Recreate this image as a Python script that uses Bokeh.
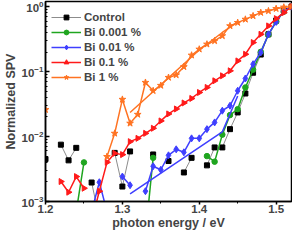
import math
from bokeh.plotting import figure
from bokeh.models import FixedTicker, Legend, LegendItem, Range1d
from bokeh.embed import file_html
from bokeh.resources import INLINE

nan = float("nan")

# ---- data (photon energy in eV, normalized SPV) ----
control_x = [1.20, nan, 1.22, 1.23, 1.24, nan, 1.26, 1.27, nan, 1.29, 1.30, 1.31, nan, 1.34, nan, 1.36, nan,
             1.38, 1.39, nan, 1.41, 1.42, nan, 1.43, 1.44, 1.45, 1.46, 1.47, 1.48, 1.49, 1.50, 1.51, 1.52]
control_y = [0.0045, nan, 0.0075, 0.0043, 0.0067, nan, 0.00196, 0.00055, nan, 0.0056, 0.0017, 0.0059, nan, 0.0053, nan, 0.0042, nan,
             0.0028, 0.0047, nan, 0.0036, 0.0068, nan, 0.0068, 0.0130, 0.0235, 0.046, 0.096, 0.183, 0.375, 0.61, 0.87, 1.0]

bi0001_x = [1.24, 1.25, nan, 1.33, 1.34, nan, 1.41, 1.42, 1.43, 1.44, 1.45, 1.46, 1.47, 1.48, 1.49, 1.50, 1.51, 1.52]
bi0001_y = [0.0007, 0.0040, nan, 0.0003, 0.0047, nan, 0.0050, 0.0041, 0.0107, 0.0214, 0.0264, 0.057, 0.107, 0.2015, 0.371, 0.589, 0.838, 1.0]

bi001_x = [1.26, 1.27, 1.28, nan, 1.30, 1.31, nan, 1.33, 1.34, 1.35, 1.36, 1.37, 1.38, 1.39, 1.40, 1.41, 1.42, 1.43,
           1.44, 1.45, 1.46, 1.47, 1.48, 1.49, 1.50, 1.51, 1.52]
bi001_y = [0.0007, 0.00198, 0.0007, nan, 0.00242, 0.00178, nan, 0.00144, 0.00349, 0.00308, 0.00514, 0.00636, 0.00572, 0.00938, 0.00938, 0.0130, 0.0165, 0.0250,
           0.0298, 0.0507, 0.0783, 0.130, 0.197, 0.375, 0.582, 0.859, 1.0]
bi001_b_x = [1.31, 1.43, 1.45]
bi001_b_y = [0.00131, 0.0118, 0.042]

bi01_x = [1.22, 1.23, 1.24, 1.25, nan, 1.26, 1.27, 1.28, 1.29, 1.30, 1.31, 1.32, 1.33, 1.34, 1.35, 1.36, 1.37, 1.38, 1.39,
          1.40, 1.41, 1.42, 1.43, 1.44, 1.45, 1.46, 1.47, 1.48, 1.49, 1.50, 1.51, 1.52]
bi01_y = [0.00203, 0.00139, 0.00242, 0.00160, nan, 0.0005, 0.00144, 0.00401, 0.00552, 0.00527, 0.00835, 0.00938, 0.0112, 0.0134, 0.0174, 0.0223, 0.0266, 0.0329, 0.0386,
          0.0477, 0.057, 0.0722, 0.0862, 0.1028, 0.146, 0.185, 0.280, 0.375, 0.505, 0.654, 0.809, 1.0]

bi1_x = [1.20, nan, 1.28, 1.29, 1.30, 1.31, 1.32, 1.33, 1.34, 1.35, 1.36, 1.37, 1.38, 1.39, 1.40, 1.41, 1.42, 1.43,
         1.44, 1.45, 1.46, 1.47, 1.48, 1.49, 1.50, 1.51, 1.52]
bi1_y = [0.0259, nan, 0.00491, 0.0112, 0.0373, 0.0160, 0.0219, 0.068, 0.0507, 0.0611, 0.0811, 0.0887, 0.1186, 0.1786, 0.221, 0.264, 0.297, 0.355,
         0.505, 0.568, 0.638, 0.720, 0.809, 0.859, 0.93, 0.98, 1.0]
bi1_b_x = [1.31, 1.40, 1.43, 1.45]
bi1_b_y = [0.0235, 0.215, 0.40, 0.58]

labels = ["Control", "Bi 0.001 %", "Bi 0.01 %", "Bi 0.1 %", "Bi 1 %"]
x_ticks = [1.2, 1.3, 1.4, 1.5]
x_minor = [1.25, 1.35, 1.45]
y_ticks = [1e-3, 1e-2, 1e-1, 1e0]
x_title = "photon energy / eV"
y_title = "Normalized SPV"

FONT = "Liberation Sans"

p = figure(width=292, height=232, x_range=Range1d(1.2, 1.52), y_range=Range1d(1e-3, 1.2),
           y_axis_type="log", output_backend="svg", toolbar_location=None,
           min_border_left=38, min_border_right=1, min_border_top=1, min_border_bottom=0)
p.grid.visible = False
p.outline_line_color = "black"
p.outline_line_width = 1.5
p.background_fill_color = "white"

for ax in (p.xaxis[0], p.yaxis[0]):
    ax.axis_line_width = 1.5
    ax.major_tick_line_width = 1.5
    ax.minor_tick_line_width = 1
    ax.major_label_text_font = FONT
    ax.major_label_text_font_style = "bold"
    ax.major_label_text_font_size = "11.5px"
    ax.axis_label_text_font = FONT
    ax.axis_label_text_font_style = "bold"
    ax.axis_label_text_font_size = "12.5px"

p.xaxis.ticker = FixedTicker(ticks=x_ticks, minor_ticks=x_minor)
p.xaxis.major_tick_out = 3
p.xaxis.major_tick_in = 0
p.xaxis.minor_tick_out = 2
p.xaxis.minor_tick_in = 0
p.xaxis.major_label_standoff = 0
p.xaxis.axis_label_standoff = 0
p.xaxis.major_label_text_line_height = 1.0
p.xaxis.axis_label_text_line_height = 1.0
p.xaxis.axis_label = x_title

y_minor = [m * 10.0 ** e for e in (-3, -2, -1) for m in range(2, 10)]
p.yaxis.ticker = FixedTicker(ticks=y_ticks, minor_ticks=y_minor)
p.yaxis.major_tick_in = 4
p.yaxis.major_tick_out = 0
p.yaxis.minor_tick_in = 2
p.yaxis.minor_tick_out = 0
p.yaxis.major_label_standoff = 2
p.yaxis.axis_label_standoff = 1
p.yaxis.axis_label = y_title

GRAY = "#8c8c8c"
GREEN = "#1fa51f"
BLUE = "#3f3fff"
RED = "#ff1a1a"
ORANGE = "#ff7322"

items = []

l0 = p.line(control_x, control_y, line_color=GRAY, line_width=1)
s0 = p.scatter(control_x, control_y, marker="square", size=5, fill_color="black", line_color="black")
items.append(LegendItem(label=labels[0], renderers=[l0, s0]))

l1 = p.line(bi0001_x, bi0001_y, line_color=GREEN, line_width=1.5)
s1 = p.scatter(bi0001_x, bi0001_y, marker="circle", size=5.5, fill_color=GREEN, line_color=GREEN)
items.append(LegendItem(label=labels[1], renderers=[l1, s1]))

p.line(bi001_b_x, bi001_b_y, line_color=BLUE, line_width=1.5)
l2 = p.line(bi001_x, bi001_y, line_color=BLUE, line_width=1.5)
s2 = p.scatter(bi001_x, bi001_y, marker="diamond", size=7, fill_color=BLUE, line_color=BLUE)
items.append(LegendItem(label=labels[2], renderers=[l2, s2]))

l3 = p.line(bi01_x, bi01_y, line_color=RED, line_width=1.5)
s3 = p.scatter(bi01_x, bi01_y, marker="triangle", size=6, angle=-math.pi / 2, fill_color=RED, line_color=RED)
items.append(LegendItem(label=labels[3], renderers=[l3, s3]))

p.line(bi1_b_x, bi1_b_y, line_color=ORANGE, line_width=1.5)
l4 = p.line(bi1_x, bi1_y, line_color=ORANGE, line_width=1.5)
s4 = p.scatter(bi1_x, bi1_y, marker="star", size=7, fill_color=ORANGE, line_color=ORANGE)
items.append(LegendItem(label=labels[4], renderers=[l4, s4]))

legend = Legend(items=items, location=(6, 118), orientation="vertical",
                glyph_width=30, glyph_height=12, label_height=12, label_standoff=3,
                spacing=3, padding=0, margin=0,
                border_line_color=None, background_fill_alpha=0,
                label_text_font=FONT, label_text_font_style="bold", label_text_font_size="11.5px")
p.add_layout(legend, "center")

open("out.html", "w").write(file_html(p, INLINE))
